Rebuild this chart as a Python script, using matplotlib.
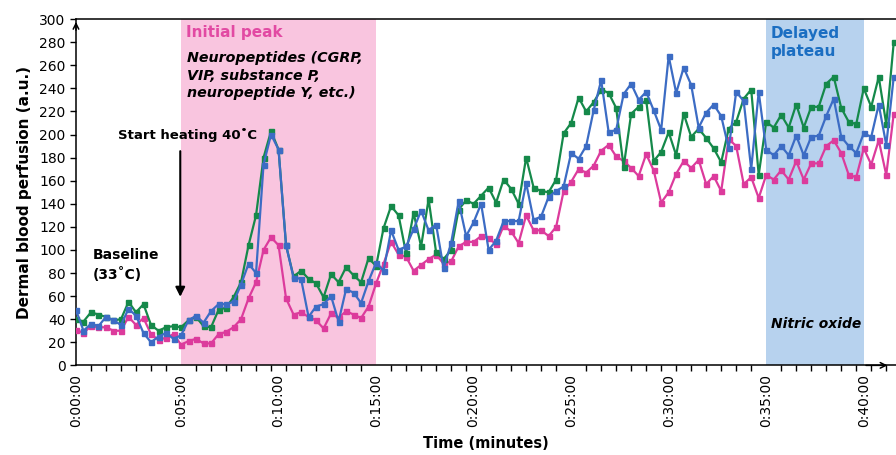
import numpy as np
import matplotlib
matplotlib.use('Agg')
import matplotlib.pyplot as plt
from matplotlib.ticker import MultipleLocator

# perfusion readings, one per sample (category axis, ~23 s apart)
pink = [31, 28, 34, 33, 33, 30, 30, 42, 35, 41,
        27, 22, 24, 27, 18, 21, 23, 19, 19, 27,
        29, 33, 40, 58, 72, 100, 111, 104, 58, 44,
        46, 42, 39, 32, 45, 41, 47, 44, 41, 51,
        71, 88, 107, 96, 94, 82, 87, 92, 96, 88,
        90, 103, 107, 107, 112, 110, 105, 121, 116, 106,
        130, 117, 117, 112, 120, 151, 159, 170, 167, 173,
        186, 191, 181, 177, 171, 164, 183, 169, 141, 150,
        166, 177, 171, 178, 157, 164, 151, 196, 190, 157,
        163, 145, 165, 161, 169, 161, 177, 161, 175, 175,
        190, 195, 184, 165, 163, 188, 174, 195, 165, 218]

green = [40, 38, 46, 44, 42, 39, 40, 55, 46, 53,
         35, 30, 33, 34, 33, 39, 42, 34, 33, 48,
         50, 59, 72, 104, 130, 180, 203, 187, 104, 77,
         82, 75, 71, 59, 79, 72, 85, 78, 72, 93,
         86, 119, 138, 130, 97, 132, 103, 144, 98, 92,
         100, 135, 143, 140, 147, 154, 141, 161, 153, 140,
         180, 154, 151, 150, 161, 201, 210, 232, 220, 228,
         239, 236, 223, 172, 218, 224, 230, 177, 185, 202,
         182, 218, 198, 205, 197, 188, 176, 205, 211, 231,
         239, 165, 211, 206, 217, 206, 226, 206, 224, 224,
         244, 250, 223, 211, 209, 240, 224, 250, 209, 280]

blue = [48, 30, 36, 34, 42, 39, 35, 49, 43, 28,
        20, 25, 28, 23, 26, 39, 43, 37, 47, 53,
        53, 55, 70, 88, 80, 174, 200, 187, 104, 76,
        75, 42, 51, 53, 60, 38, 66, 63, 54, 73,
        89, 82, 117, 100, 103, 118, 134, 117, 122, 84,
        106, 142, 112, 124, 140, 100, 108, 125, 125, 125,
        158, 126, 129, 146, 151, 155, 184, 179, 190, 221,
        247, 202, 204, 235, 244, 230, 237, 221, 204, 268,
        236, 258, 243, 206, 219, 226, 216, 188, 237, 229,
        170, 237, 187, 182, 190, 182, 199, 182, 198, 199,
        216, 231, 198, 190, 184, 201, 198, 226, 191, 250]

tick_idx = [0, 14, 27, 40, 53, 66, 79, 92, 105]
tick_labels = ['0:00:00', '0:05:00', '0:10:00', '0:15:00', '0:20:00',
               '0:25:00', '0:30:00', '0:35:00', '0:40:00']
peak_span = (14, 40)
plateau_span = (92, 105)

x = np.arange(len(pink))

fig = plt.figure(figsize=(8.96, 4.55), dpi=100)
ax = fig.add_axes([0.0848, 0.197, 0.9152, 0.761])

ax.axvspan(*peak_span, color='#F9C5DF', lw=0, zorder=0)
ax.axvspan(*plateau_span, color='#B7D2EE', lw=0, zorder=0)

style = dict(marker='s', markersize=3.6, lw=1.6, zorder=3)
ax.plot(x, pink, color='#DC3B9C', **style)
ax.plot(x, green, color='#15894A', **style)
ax.plot(x, blue, color='#3C6CC4', **style)

ax.set_xlim(0, 109.3)
ax.set_ylim(0, 300)
ax.yaxis.set_major_locator(MultipleLocator(20))
ax.set_xticks(tick_idx)
ax.set_xticklabels(tick_labels, rotation=90, fontsize=10)
ax.xaxis.set_minor_locator(MultipleLocator(2))
ax.tick_params(axis='x', which='major', length=0, pad=6)
ax.tick_params(axis='x', which='minor', length=4, width=1, direction='out')
ax.tick_params(axis='y', labelsize=10, length=4, width=1)

ax.spines['right'].set_visible(False)
for s in ['left', 'bottom', 'top']:
    ax.spines[s].set_linewidth(1.1)

# arrow heads on the axes
ax.annotate('', xy=(0, 1.0), xytext=(0, 0.96), xycoords='axes fraction',
            arrowprops=dict(arrowstyle='->', lw=1.1, color='black'))
ax.annotate('', xy=(0.993, 0), xytext=(0.96, 0), xycoords='axes fraction',
            arrowprops=dict(arrowstyle='->', lw=1.1, color='black'))

ax.set_ylabel('Dermal blood perfusion (a.u.)', fontsize=11, fontweight='bold', labelpad=5)
ax.set_xlabel('Time (minutes)', fontsize=10.5, fontweight='bold')
ax.xaxis.set_label_coords(0.5, -0.205)

ax.text(14.6, 288, 'Initial peak', color='#E24AA3', fontsize=11, fontweight='bold', va='center')
ax.text(14.8, 272, 'Neuropeptides (CGRP,\nVIP, substance P,\nneuropeptide Y, etc.)',
        fontsize=10.3, fontweight='bold', style='italic', va='top', linespacing=1.3)
ax.text(5.6, 200, 'Start heating 40˚C', fontsize=9.5, fontweight='bold', va='center')
ax.annotate('', xy=(13.9, 57), xytext=(13.9, 188),
            arrowprops=dict(arrowstyle='-|>', lw=1.5, color='black', mutation_scale=14))
ax.text(2.3, 87, 'Baseline\n(33˚C)', fontsize=10, fontweight='bold', va='center', linespacing=1.4)
ax.text(92.6, 280, 'Delayed\nplateau', color='#1B6EC2', fontsize=11, fontweight='bold',
        va='center', linespacing=1.25)
ax.text(92.7, 36, 'Nitric oxide', fontsize=10, fontweight='bold', style='italic', va='center')

fig.savefig('out.png', dpi=100)
